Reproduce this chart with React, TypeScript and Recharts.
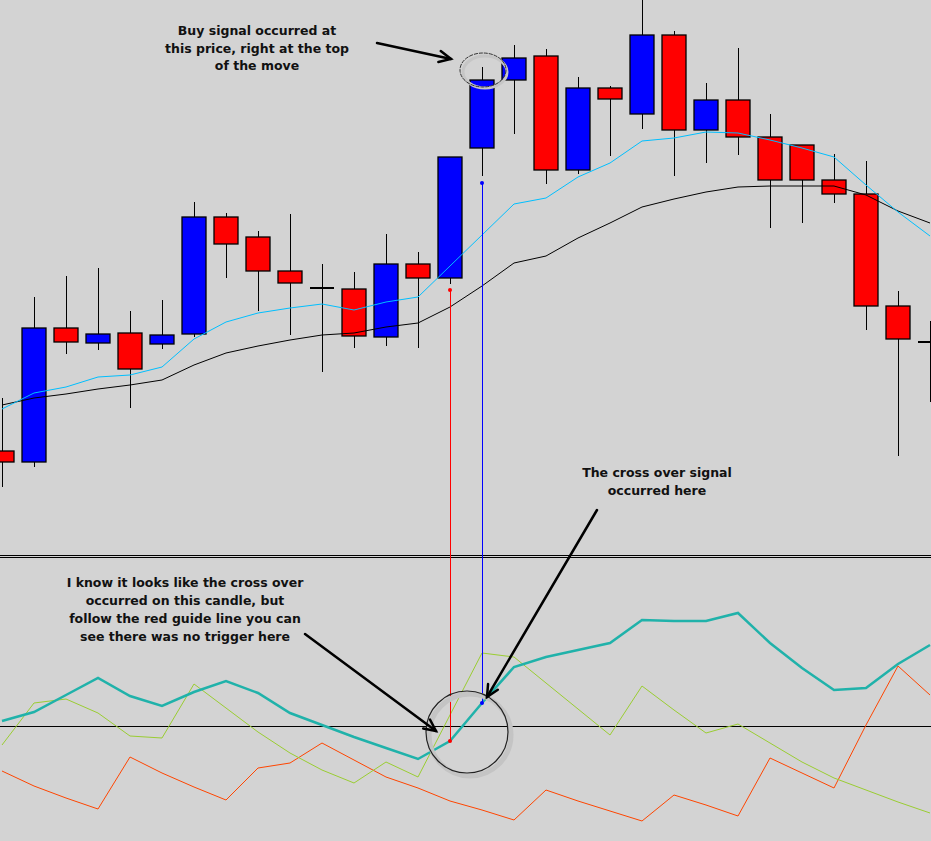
import React from 'react';
import { ComposedChart, Bar, Line, XAxis, YAxis, ReferenceLine, ReferenceDot } from 'recharts';

const W = 931;
const H = 841;

// candles (price units), oldest first
const OPEN = [549, 538, 672, 657, 667, 656, 666, 783, 763, 729, 712, 711, 663, 736, 722, 852, 920, 944, 830, 912, 886, 965, 870, 900, 863, 855, 820, 806, 694, 658];
const CLOSE = [538, 672, 658, 666, 631, 665, 783, 756, 729, 717, 712, 664, 736, 722, 843, 920, 942, 830, 912, 901, 965, 870, 900, 863, 820, 820, 806, 694, 661, 658];
const HIGH = [602, 703, 724, 732, 689, 700, 798, 787, 769, 786, 736, 728, 766, 748, 843, 933, 955, 951, 923, 914, 1004, 969, 917, 952, 886, 855, 846, 839, 709, 679];
const LOW = [513, 533, 646, 650, 592, 651, 663, 722, 689, 665, 628, 652, 654, 652, 716, 824, 866, 816, 826, 844, 871, 824, 837, 845, 772, 777, 797, 670, 544, 598];

// moving averages
const MA_FAST = [591, 607, 613, 623, 625, 633, 661, 678, 687, 692, 696, 690, 698, 703, 734, 765, 796, 802, 823, 837, 859, 862, 868, 867, 860, 852, 843, 815, 788, 764];
const MA_SLOW = [595, 602, 606, 611, 615, 620, 635, 647, 654, 660, 665, 667, 673, 677, 693, 714, 737, 744, 762, 777, 793, 801, 808, 813, 814, 814, 814, 805, 789, 777];

// oscillator panel
const OSC_MAIN = [5, 14, 31, 48, 30, 20, 34, 45, 33, 13, 1, -11, -22, -33, -15, 23, 59, 69, 76, 83, 106, 105, 105, 113, 83, 58, 36, 38, 62, 81];
const OSC_SIGNAL = [-19, 23, 27, 13, -10, -12, 42, 18, -6, -27, -44, -57, -36, -51, 11, 73, 69, 43, 17, -9, 40, 16, -7, 2, -17, -36, -52, -64, -76, -87];
const OSC_SLOW = [-45, -60, -72, -83, -31, -47, -61, -74, -42, -37, -17, -34, -51, -62, -75, -84, -94, -64, -75, -85, -95, -69, -79, -90, -32, -47, -62, 1, 60, 31];

// signals: candle index, marker price
const FALSE_CROSS = { i: 14, price: 710 };
const BUY_SIGNAL = { i: 15, price: 817 };
const PANEL_SPLIT = { price: 445, osc: 171 };

const data = OPEN.map((o, i) => ({
  i,
  open: o,
  close: CLOSE[i],
  high: HIGH[i],
  low: LOW[i],
  fast: MA_FAST[i],
  slow: MA_SLOW[i],
  main: OSC_MAIN[i],
  signal: OSC_SIGNAL[i],
  slowOsc: OSC_SLOW[i],
}));

const Candle = (props: any) => {
  const { x, y, width, height, payload } = props;
  const top = Math.min(y, y + height);
  const h = Math.abs(height);
  const { open, close, high, low } = payload;
  const k = h / (high - low || 1);
  const yOf = (v: number) => top + (high - v) * k;
  const cx = Math.round(x + width / 2) + 0.5;
  if (open === close) {
    return (
      <g>
        <line x1={cx} x2={cx} y1={top} y2={top + h} stroke="#000" strokeWidth={1} />
        <line x1={x} x2={x + width} y1={yOf(open)} y2={yOf(open)} stroke="#000" strokeWidth={2} />
      </g>
    );
  }
  const bTop = yOf(Math.max(open, close));
  const bBot = yOf(Math.min(open, close));
  return (
    <g>
      <line x1={cx} x2={cx} y1={top} y2={top + h} stroke="#000" strokeWidth={1} />
      <rect x={x} y={bTop} width={width} height={bBot - bTop} fill={close > open ? '#0000ff' : '#ff0000'} stroke="#000" strokeWidth={1.3} />
    </g>
  );
};

const txt = { fontFamily: '"DejaVu Sans", Verdana, sans-serif', fontWeight: 700, fontSize: 12.5, fill: '#111' };

const Arrow = ({ x1, y1, x2, y2 }: { x1: number; y1: number; x2: number; y2: number }) => {
  const a = Math.atan2(y2 - y1, x2 - x1);
  const L = 13;
  const s = 0.45;
  return (
    <g stroke="#000" strokeWidth={2.5} fill="none" strokeLinecap="round">
      <line x1={x1} y1={y1} x2={x2} y2={y2} />
      <polyline
        points={`${x2 - L * Math.cos(a - s)},${y2 - L * Math.sin(a - s)} ${x2},${y2} ${x2 - L * Math.cos(a + s)},${y2 - L * Math.sin(a + s)}`}
      />
    </g>
  );
};

const noDot = { dot: false, activeDot: false, isAnimationActive: false } as const;

export default function App() {
  return (
    <div style={{ position: 'fixed', left: 0, top: 0, width: W, height: H, background: '#d3d3d3', overflow: 'hidden' }}>
      <ComposedChart width={W} height={H} data={data} margin={{ top: 0, right: 0, bottom: 0, left: 0 }}>
        <XAxis dataKey="i" type="number" domain={[-0.0625, 29.03125]} allowDataOverflow hide />
        <YAxis yAxisId="price" domain={[159, 1000]} allowDataOverflow hide />
        <YAxis yAxisId="osc" domain={[-115, 726]} allowDataOverflow hide />

        <ReferenceLine yAxisId="price" y={PANEL_SPLIT.price} stroke="#000" strokeWidth={1} shapeRendering="crispEdges" />
        <ReferenceLine yAxisId="price" y={PANEL_SPLIT.price - 2} stroke="#000" strokeWidth={1} shapeRendering="crispEdges" />
        <ReferenceLine yAxisId="osc" y={0} stroke="#000" strokeWidth={1} shapeRendering="crispEdges" />

        <Line yAxisId="price" dataKey="slow" stroke="#000" strokeWidth={1} {...noDot} />
        <Line yAxisId="price" dataKey="fast" stroke="#00bfff" strokeWidth={1} {...noDot} />
        <Bar yAxisId="price" dataKey={(d: any) => [d.low, d.high]} barSize={24} shape={<Candle />} isAnimationActive={false} />

        <Line yAxisId="osc" dataKey="slowOsc" stroke="#ff4500" strokeWidth={1} {...noDot} />
        <Line yAxisId="osc" dataKey="signal" stroke="#9acd32" strokeWidth={1} {...noDot} />
        <Line yAxisId="osc" dataKey="main" stroke="#20b2aa" strokeWidth={2.5} {...noDot} />

        <ReferenceLine yAxisId="price" segment={[{ x: FALSE_CROSS.i, y: FALSE_CROSS.price }, { x: FALSE_CROSS.i, y: PANEL_SPLIT.price }]} stroke="#ff0000" shapeRendering="crispEdges" />
        <ReferenceLine yAxisId="osc" segment={[{ x: FALSE_CROSS.i, y: PANEL_SPLIT.osc }, { x: FALSE_CROSS.i, y: OSC_MAIN[FALSE_CROSS.i] }]} stroke="#ff0000" shapeRendering="crispEdges" />
        <ReferenceLine yAxisId="price" segment={[{ x: BUY_SIGNAL.i, y: BUY_SIGNAL.price }, { x: BUY_SIGNAL.i, y: PANEL_SPLIT.price }]} stroke="#0000ff" shapeRendering="crispEdges" />
        <ReferenceLine yAxisId="osc" segment={[{ x: BUY_SIGNAL.i, y: PANEL_SPLIT.osc }, { x: BUY_SIGNAL.i, y: OSC_MAIN[BUY_SIGNAL.i] }]} stroke="#0000ff" shapeRendering="crispEdges" />
        <ReferenceDot yAxisId="price" x={FALSE_CROSS.i} y={FALSE_CROSS.price} r={2} fill="#ff0000" stroke="none" />
        <ReferenceDot yAxisId="osc" x={FALSE_CROSS.i} y={OSC_MAIN[FALSE_CROSS.i]} r={2} fill="#ff0000" stroke="none" />
        <ReferenceDot yAxisId="price" x={BUY_SIGNAL.i} y={BUY_SIGNAL.price} r={2} fill="#0000ff" stroke="none" />
        <ReferenceDot yAxisId="osc" x={BUY_SIGNAL.i} y={OSC_MAIN[BUY_SIGNAL.i]} r={2} fill="#0000ff" stroke="none" />
      </ComposedChart>

      {/* annotations */}
      <svg width={W} height={H} style={{ position: 'absolute', left: 0, top: 0, pointerEvents: 'none' }}>
        <ellipse cx={485} cy={72} rx={22} ry={16} fill="none" stroke="#c6c6c6" strokeWidth={3} />
        <ellipse cx={483} cy={70} rx={23} ry={17} fill="none" stroke="#333" strokeWidth={1} strokeDasharray="4 1" />
        <circle cx={470} cy={735} r={41} fill="none" stroke="#c4c4c4" strokeWidth={5} />
        <circle cx={467} cy={732} r={41} fill="none" stroke="#222" strokeWidth={1.2} />

        <Arrow x1={377} y1={43} x2={451} y2={59} />
        <Arrow x1={305} y1={634} x2={436} y2={731} />
        <Arrow x1={597} y1={510} x2={487} y2={697} />

        <text textAnchor="middle" style={txt}>
          <tspan x={257} y={35}>Buy signal occurred at</tspan>
          <tspan x={257} y={53}>this price, right at the top</tspan>
          <tspan x={257} y={70}>of the move</tspan>
        </text>
        <text textAnchor="middle" style={txt}>
          <tspan x={657} y={477}>The cross over signal</tspan>
          <tspan x={657} y={495}>occurred here</tspan>
        </text>
        <text textAnchor="middle" style={txt}>
          <tspan x={185} y={587}>I know it looks like the cross over</tspan>
          <tspan x={185} y={605}>occurred on this candle, but</tspan>
          <tspan x={185} y={623}>follow the red guide line you can</tspan>
          <tspan x={185} y={641}>see there was no trigger here</tspan>
        </text>
      </svg>
    </div>
  );
}
